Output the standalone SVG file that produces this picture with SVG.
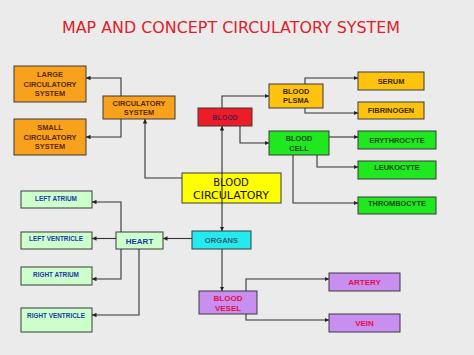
<svg xmlns="http://www.w3.org/2000/svg" width="474" height="355" viewBox="0 0 474 355">
<defs>
<marker id="arr" viewBox="0 0 10 10" refX="10" refY="5" markerWidth="4.5" markerHeight="4.5" orient="auto" markerUnits="userSpaceOnUse">
<path d="M0,0 L10,5 L0,10 z" fill="#222"/>
</marker>
<style>
.b{stroke:#3a3a3a;stroke-width:1}
.t{font-family:"Liberation Sans",Arial,sans-serif;font-weight:bold;text-anchor:middle}
.orange{fill:#f8a11c}
.gold{fill:#ffc20e}
.green{fill:#1fe81f}
.lg{fill:#ccffcc}
.purple{fill:#c98ff0}
.c path{fill:none;stroke:#333;stroke-width:1.1;marker-end:url(#arr)}
</style>
</defs>
<rect width="474" height="355" fill="#ebebeb"/>
<text x="231" y="33" font-family="'Comic Sans MS','DejaVu Sans',sans-serif" font-size="16" fill="#e0202a" text-anchor="middle" textLength="338" lengthAdjust="spacingAndGlyphs">MAP AND CONCEPT CIRCULATORY SYSTEM</text>

<g id="large">
<rect class="b orange" x="14" y="66" width="72" height="36"/>
<text class="t" font-size="7.4" fill="#5a2a0a"><tspan x="50" y="77">LARGE</tspan><tspan x="50" y="86.5">CIRCULATORY</tspan><tspan x="50" y="96">SYSTEM</tspan></text>
</g>
<g id="small">
<rect class="b orange" x="14" y="119" width="72" height="36"/>
<text class="t" font-size="7.4" fill="#5a2a0a"><tspan x="50" y="130">SMALL</tspan><tspan x="50" y="139.5">CIRCULATORY</tspan><tspan x="50" y="149">SYSTEM</tspan></text>
</g>
<g id="circsys">
<rect class="b orange" x="103" y="96" width="72" height="23"/>
<text class="t" font-size="7.4" fill="#5a2a0a"><tspan x="139" y="106">CIRCULATORY</tspan><tspan x="139" y="115">SYSTEM</tspan></text>
</g>
<g id="blood">
<rect class="b" x="198" y="108" width="54" height="18" fill="#ee1c24"/>
<text class="t" x="225" y="119.5" font-size="7" fill="#5a1a5a">BLOOD</text>
</g>
<g id="plasma">
<rect class="b gold" x="269" y="84" width="54" height="24"/>
<text class="t" font-size="7.4" fill="#3a2a00"><tspan x="296" y="94">BLOOD</tspan><tspan x="296" y="103">PLSMA</tspan></text>
</g>
<g id="serum">
<rect class="b gold" x="358" y="72" width="66" height="18"/>
<text class="t" x="391" y="83.5" font-size="7.4" fill="#3a2a00">SERUM</text>
</g>
<g id="fibrinogen">
<rect class="b gold" x="358" y="102" width="66" height="17"/>
<text class="t" x="391" y="113" font-size="7.4" fill="#3a2a00">FIBRINOGEN</text>
</g>
<g id="cell">
<rect class="b green" x="269" y="131" width="60" height="24"/>
<text class="t" font-size="7.4" fill="#1a4a1a"><tspan x="299" y="141">BLOOD</tspan><tspan x="299" y="151">CELL</tspan></text>
</g>
<g id="erythrocyte">
<rect class="b green" x="358" y="131" width="78" height="18"/>
<text class="t" x="397" y="142.5" font-size="7.4" fill="#1a4a1a">ERYTHROCYTE</text>
</g>
<g id="leukocyte">
<rect class="b green" x="358" y="161" width="78" height="18"/>
<text class="t" x="397" y="170" font-size="7.4" fill="#1a4a1a">LEUKOCYTE</text>
</g>
<g id="thrombocyte">
<rect class="b green" x="358" y="197" width="78" height="17"/>
<text class="t" x="397" y="206" font-size="7.4" fill="#1a4a1a">THROMBOCYTE</text>
</g>
<g id="bloodcirc">
<rect class="b" x="182" y="173" width="99" height="30" fill="#ffff00"/>
<text font-family="'Comic Sans MS','DejaVu Sans',sans-serif" font-size="10" fill="#111" text-anchor="middle"><tspan x="231" y="186">BLOOD</tspan><tspan x="231" y="198.5" textLength="76" lengthAdjust="spacingAndGlyphs">CIRCULATORY</tspan></text>
</g>
<g id="organs">
<rect class="b" x="192" y="231" width="59" height="18" fill="#22eaee"/>
<text class="t" x="221.5" y="242.5" font-size="7.6" fill="#3f5a6e">ORGANS</text>
</g>
<g id="heart">
<rect class="b lg" x="116" y="232" width="47" height="17"/>
<text class="t" x="139.5" y="243.5" font-size="8" fill="#1a3aa6">HEART</text>
</g>
<g id="latrium">
<rect class="b lg" x="21" y="191" width="71" height="17"/>
<text class="t" x="56" y="200.5" font-size="6.4" fill="#1a3aa6">LEFT ATRIUM</text>
</g>
<g id="lventricle">
<rect class="b lg" x="21" y="232" width="71" height="17"/>
<text class="t" x="56" y="241" font-size="6.4" fill="#1a3aa6">LEFT VENTRICLE</text>
</g>
<g id="ratrium">
<rect class="b lg" x="21" y="267" width="71" height="18"/>
<text class="t" x="56" y="276.5" font-size="6.4" fill="#1a3aa6">RIGHT ATRIUM</text>
</g>
<g id="rventricle">
<rect class="b lg" x="21" y="308" width="71" height="24"/>
<text class="t" x="56" y="318" font-size="6.4" fill="#1a3aa6">RIGHT VENTRICLE</text>
</g>
<g id="vessel">
<rect class="b purple" x="199" y="291" width="58" height="23"/>
<text class="t" font-size="8" fill="#e0104a"><tspan x="228" y="301">BLOOD</tspan><tspan x="228" y="310.5">VESEL</tspan></text>
</g>
<g id="artery">
<rect class="b purple" x="329" y="273" width="71" height="18"/>
<text class="t" x="364.5" y="284.5" font-size="8" fill="#e0104a">ARTERY</text>
</g>
<g id="vein">
<rect class="b purple" x="329" y="314" width="71" height="18"/>
<text class="t" x="364.5" y="325.5" font-size="8" fill="#e0104a">VEIN</text>
</g>

<g id="connectors" class="c">
<path d="M121,96 V78 H86"/>
<path d="M121,119 V137 H86"/>
<path d="M182,178 H145 V119"/>
<path d="M222,188 V126"/>
<path d="M222,188 V231"/>
<path d="M222,108 V96 H269"/>
<path d="M240,126 V143 H269"/>
<path d="M305,84 V78 H358"/>
<path d="M305,108 V113 H358"/>
<path d="M329,137 H358"/>
<path d="M317,155 V167 H358"/>
<path d="M293,155 V203 H358"/>
<path d="M192,238.5 H163"/>
<path d="M121,232 V202 H92"/>
<path d="M116,238.5 H92"/>
<path d="M121,249 V279 H92"/>
<path d="M139,249 V315 H92"/>
<path d="M222,249 V291"/>
<path d="M246,291 V279 H329"/>
<path d="M246,314 V320 H329"/>
</g>
</svg>
